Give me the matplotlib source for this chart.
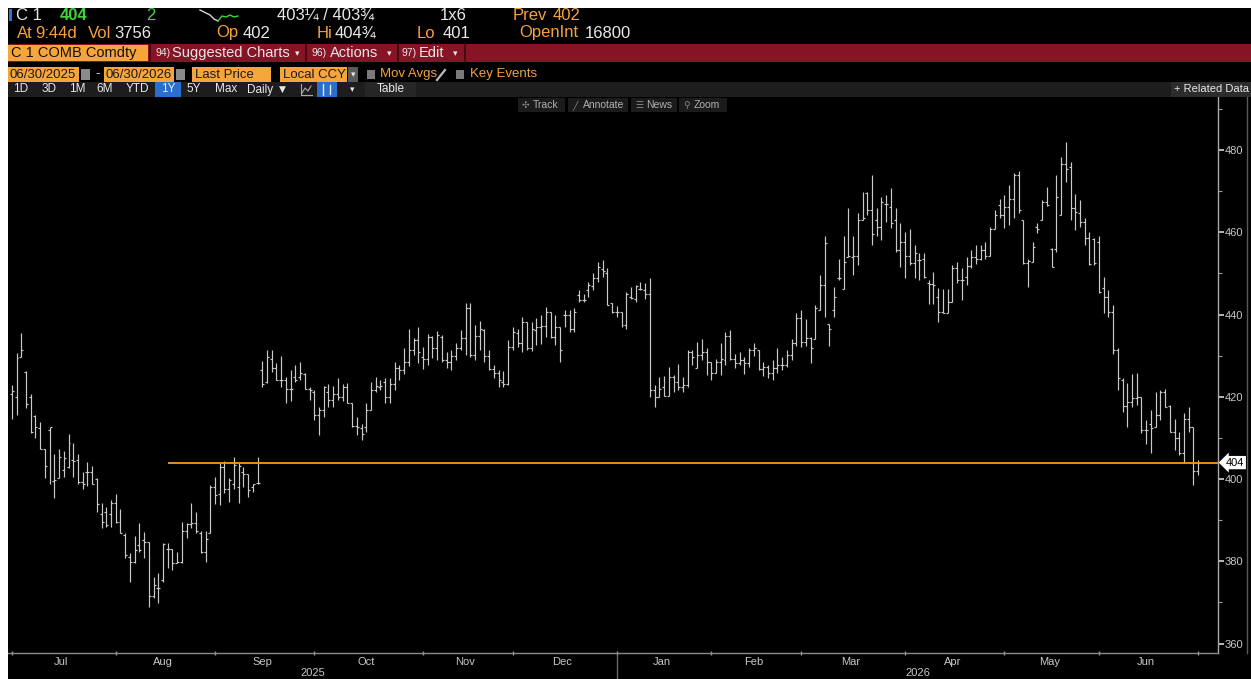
import matplotlib
matplotlib.use('Agg')
import matplotlib.pyplot as plt
from matplotlib.patches import Rectangle
from matplotlib.lines import Line2D
from matplotlib import font_manager
from matplotlib.transforms import blended_transform_factory
import numpy as np
import pandas as pd

W, H, DPI = 1251, 679, 100

# ---------------- data ----------------
opens = [
    420.7, 419.9, 429.6, 426.1, 420.0, 415.4, 412.5, 407.2, 411.9, 399.5,
    400.2, 402.2, 403.0, 404.6, 404.6, 399.3, 401.8, 401.8, 400.0, 391.6,
    392.0, 391.6, 394.1, 389.6, 386.4, 381.1, 379.9, 384.0, 385.2, 384.8,
    371.6, 373.4, 375.4, 383.1, 383.1, 379.5, 379.9, 387.4, 389.0, 389.2,
    387.0, 382.3, 387.0, 398.0, 396.4, 403.0, 397.7, 398.8, 398.1, 401.8,
    401.2, 398.1, 399.0,
    426.5, 423.5, 429.3, 426.9, 424.1, 424.2, 422.0, 424.9, 424.9, 425.5,
    422.0, 421.2, 415.6, 416.8, 421.2, 419.2, 420.7, 419.9, 422.5, 418.4,
    412.9, 412.3, 412.7, 416.8, 421.6, 422.4, 423.7, 419.9, 423.1, 427.1,
    426.5, 428.5, 431.4, 433.9, 429.7, 429.3, 434.6, 431.8, 434.6, 428.9,
    428.5, 429.9, 431.8, 434.4, 441.5, 430.1, 434.8, 436.2, 429.9, 426.7,
    425.7, 423.7, 423.1, 432.2, 435.4, 433.0, 438.3, 431.8, 436.2, 437.0,
    437.2, 440.7, 434.6, 437.0, 439.9, 439.9, 436.6, 444.7, 443.5, 445.9,
    447.0, 449.0,
    451.0, 450.2, 442.9, 440.7, 440.7, 437.4, 444.3, 443.9, 446.1, 446.0, 445.1,
    421.6, 420.0, 422.4, 420.2, 424.9, 423.6, 422.4, 422.8, 430.9, 426.9,
    430.2, 431.0, 428.5, 425.7, 428.5, 428.9, 434.8, 429.3, 428.1, 428.9,
    428.1, 431.4, 431.3, 426.7, 427.3, 425.7, 427.1, 427.7, 427.7, 430.1,
    433.0, 439.1, 433.4, 434.2, 434.0, 441.1, 447.2, 437.7, 441.0, 448.8,
    446.1, 454.1, 454.1, 454.2, 463.1, 469.5, 465.4, 463.0, 461.3, 466.9,
    466.2, 463.0,
    455.7, 457.7, 454.2, 452.6, 453.2, 453.6, 447.6, 447.4, 444.3, 440.7,
    440.4, 443.1, 451.2, 448.5, 449.2, 451.8, 454.1, 453.6, 455.7, 454.2,
    460.9, 466.6, 464.2, 466.2, 468.2, 473.9, 463.1, 452.6, 452.8, 461.2,
    463.0, 467.4, 456.0, 456.0, 464.2, 476.7, 475.9, 466.0, 464.6, 462.6,
    458.5, 458.3, 457.7, 446.4, 444.3, 440.7, 431.3, 424.2, 417.7, 418.8,
    419.6, 420.0, 411.9, 413.5, 412.7, 415.6, 421.2, 417.7, 411.5, 409.9,
    406.4, 414.7, 412.7, 402.0,
]
highs = [
    422.9, 430.6, 435.4, 426.3, 420.7, 415.6, 413.9, 407.2, 412.7, 406.2,
    407.2, 406.9, 410.9, 408.8, 406.1, 401.8, 404.2, 403.2, 400.2, 394.2,
    393.3, 394.9, 396.4, 392.6, 386.8, 381.9, 386.1, 389.2, 387.2, 384.8,
    376.3, 377.1, 384.4, 384.5, 383.1, 382.3, 389.6, 389.2, 394.2, 392.0,
    387.4, 387.4, 398.5, 400.5, 403.8, 404.5, 400.2, 405.4, 403.8, 403.0,
    401.2, 398.9, 405.3,
    428.7, 431.4, 431.5, 428.1, 429.9, 424.9, 426.5, 427.7, 428.5, 425.7,
    422.4, 421.6, 417.6, 422.6, 423.1, 422.6, 424.5, 423.1, 423.3, 418.6,
    415.2, 413.5, 418.4, 423.7, 424.9, 424.1, 424.5, 424.5, 428.5, 427.7,
    431.8, 436.4, 434.2, 437.0, 432.2, 435.2, 434.8, 436.1, 435.0, 431.0,
    431.4, 433.1, 436.2, 442.9, 442.9, 437.4, 438.5, 436.4, 431.4, 427.7,
    426.5, 426.3, 433.8, 437.0, 436.6, 439.3, 438.3, 438.3, 439.1, 439.9,
    441.9, 440.7, 439.9, 437.0, 441.2, 441.1, 441.5, 446.0, 445.1, 448.0,
    450.0, 452.8,
    453.2, 451.2, 442.9, 442.1, 440.7, 445.5, 446.8, 447.3, 448.0, 447.6, 448.8,
    422.8, 424.9, 425.0, 427.3, 425.3, 427.9, 424.9, 431.5, 431.3, 433.4,
    434.0, 431.8, 428.5, 429.1, 433.0, 435.8, 436.2, 430.4, 431.0, 429.7,
    431.8, 433.0, 431.3, 428.5, 427.7, 428.9, 431.8, 429.7, 431.3, 434.0,
    440.3, 441.1, 438.8, 434.6, 442.3, 449.6, 459.1, 437.7, 446.8, 453.6,
    459.1, 466.0, 459.1, 464.6, 469.9, 469.9, 473.9, 465.8, 468.6, 469.1,
    470.7, 465.8,
    462.2, 460.1, 460.7, 457.0, 455.0, 455.0, 448.4, 450.4, 446.4, 446.1,
    446.1, 452.0, 452.8, 451.2, 454.0, 455.7, 456.9, 456.9, 457.7, 461.3,
    465.4, 468.2, 469.0, 471.5, 474.3, 475.0, 463.1, 453.4, 457.7, 462.2,
    467.8, 470.9, 456.3, 473.9, 478.2, 481.9, 477.2, 469.3, 467.8, 463.4,
    460.1, 458.5, 459.1, 449.2, 446.0, 442.3, 431.8, 424.5, 423.3, 425.5,
    425.7, 420.0, 414.3, 416.8, 421.2, 421.6, 422.0, 418.0, 414.5, 411.5,
    416.0, 417.6, 412.7, 404.75,
]
lows = [
    414.5, 415.6, 429.6, 417.2, 411.1, 410.1, 407.2, 400.2, 398.9, 395.3,
    400.2, 400.6, 402.6, 400.6, 398.9, 397.7, 398.3, 398.9, 392.1, 388.0,
    388.4, 388.4, 389.2, 386.8, 380.7, 375.0, 379.7, 382.3, 380.7, 369.0,
    371.0, 369.8, 375.0, 378.3, 378.0, 379.5, 379.5, 385.6, 388.2, 387.0,
    381.9, 379.9, 387.0, 394.0, 393.7, 396.7, 394.5, 397.7, 394.2, 398.1,
    395.7, 396.9, 398.9,
    422.3, 423.3, 426.1, 424.1, 422.4, 418.4, 419.0, 423.7, 424.1, 422.0,
    419.2, 414.3, 410.7, 415.0, 417.6, 417.6, 419.2, 419.0, 418.4, 412.7,
    410.7, 409.5, 411.5, 416.8, 421.2, 421.6, 418.6, 418.6, 421.6, 424.1,
    425.5, 427.5, 430.1, 428.1, 426.7, 427.7, 429.4, 428.9, 428.5, 427.1,
    426.5, 428.9, 431.4, 430.1, 429.6, 428.9, 431.4, 428.5, 426.5, 424.5,
    422.4, 422.4, 422.8, 431.4, 432.0, 431.0, 431.4, 431.2, 432.6, 432.8,
    434.6, 434.2, 432.6, 428.5, 437.0, 435.8, 435.8, 443.1, 443.1, 444.3,
    446.0, 448.0,
    449.2, 442.3, 440.3, 439.5, 437.0, 436.4, 443.9, 443.1, 446.0, 443.9, 420.0,
    417.6, 420.0, 420.2, 420.2, 421.2, 421.6, 421.2, 422.4, 427.7, 426.9,
    428.9, 425.3, 424.2, 425.7, 425.3, 427.7, 428.9, 426.9, 427.7, 425.5,
    427.3, 429.9, 426.5, 425.0, 424.5, 424.2, 425.7, 426.5, 427.3, 428.9,
    432.3, 432.2, 432.3, 428.3, 434.0, 441.1, 439.5, 432.3, 439.5, 448.4,
    446.1, 454.0, 449.6, 452.0, 463.1, 464.2, 456.9, 459.1, 458.1, 462.6,
    461.0, 455.3,
    451.6, 448.8, 452.0, 449.0, 448.4, 448.8, 442.5, 442.5, 438.2, 440.3,
    440.4, 443.1, 447.6, 443.5, 447.2, 451.2, 452.4, 453.2, 453.6, 454.2,
    460.9, 463.4, 461.0, 461.8, 463.4, 464.6, 452.4, 446.8, 452.8, 459.9,
    463.0, 466.4, 451.6, 455.3, 464.2, 472.3, 463.1, 460.5, 461.3, 456.9,
    452.0, 452.0, 445.3, 440.3, 439.5, 430.5, 421.6, 416.4, 412.7, 417.6,
    418.0, 411.1, 408.6, 406.4, 412.7, 414.3, 417.6, 411.5, 407.0, 405.8,
    404.0, 411.5, 398.5, 401.0,
]
closes = [
    421.4, 429.5, 431.5, 418.2, 411.5, 412.6, 407.2, 403.2, 412.7, 399.8,
    405.3, 405.0, 408.7, 404.4, 399.3, 398.9, 401.8, 398.9, 393.9, 389.6,
    388.8, 394.1, 389.6, 386.8, 381.5, 379.9, 382.7, 382.7, 384.8, 371.6,
    374.2, 373.4, 384.2, 383.1, 379.5, 379.9, 387.4, 389.0, 389.2, 387.4,
    382.3, 385.3, 398.1, 396.0, 403.0, 397.7, 399.7, 403.4, 403.2, 401.2,
    397.3, 398.9, 399.0,
    423.1, 429.6, 426.9, 424.1, 424.2, 422.0, 422.0, 424.2, 425.7, 422.0,
    421.6, 415.6, 416.8, 422.3, 419.2, 420.7, 420.0, 422.5, 418.4, 412.9,
    412.7, 410.9, 416.8, 421.6, 422.6, 422.6, 419.9, 423.1, 427.1, 426.5,
    428.5, 431.4, 433.9, 431.0, 429.3, 434.6, 431.8, 435.0, 428.9, 428.5,
    429.9, 431.8, 434.4, 441.5, 430.1, 434.8, 436.6, 429.9, 426.7, 425.7,
    424.1, 423.1, 432.2, 435.8, 433.0, 438.3, 431.8, 436.4, 437.0, 437.2,
    440.7, 434.6, 437.0, 431.5, 439.9, 436.6, 440.7, 443.5, 443.5, 447.2,
    449.0, 451.5,
    450.5, 442.3, 440.7, 440.5, 437.4, 445.0, 444.1, 446.9, 446.1, 445.1, 421.6,
    420.0, 422.0, 420.2, 424.9, 423.6, 422.4, 422.8, 430.9, 429.7, 430.2,
    431.0, 428.5, 425.7, 428.5, 429.3, 434.8, 429.3, 428.1, 428.9, 428.1,
    431.4, 431.8, 426.7, 427.3, 425.7, 427.1, 427.7, 427.7, 430.1, 433.0,
    439.1, 433.4, 434.2, 431.8, 441.5, 447.2, 457.3, 436.4, 444.3, 448.8,
    452.8, 454.2, 454.2, 463.1, 463.4, 465.4, 459.6, 461.3, 467.4, 466.9,
    462.3, 455.7,
    457.7, 454.2, 452.6, 455.0, 453.2, 449.2, 447.4, 447.2, 440.7, 440.4,
    443.1, 451.2, 448.5, 448.4, 451.8, 454.1, 453.6, 455.7, 454.2, 460.9,
    464.2, 464.2, 466.2, 468.2, 473.9, 465.5, 452.6, 453.1, 456.5, 460.7,
    467.4, 466.6, 451.6, 468.6, 476.7, 475.5, 466.0, 465.0, 462.6, 458.5,
    452.4, 452.6, 445.5, 444.3, 440.7, 431.3, 424.5, 417.7, 418.8, 419.6,
    420.0, 411.9, 411.9, 412.3, 415.6, 421.2, 417.6, 411.5, 409.9, 406.4,
    414.7, 412.7, 402.0, 404.0,
]
holidays = ['2025-07-04', '2025-09-01', '2025-11-27', '2025-12-25', '2026-01-01',
            '2026-01-19', '2026-02-16', '2026-04-03', '2026-05-25', '2026-06-19']
dates = pd.bdate_range('2025-06-30', '2026-06-30', freq='C', holidays=holidays)
last_price = 404
level_line_start = '2025-08-15'
y_ticks = [360, 380, 400, 420, 440, 460, 480]

n = min(len(opens), len(highs), len(lows), len(closes), len(dates))
opens, highs, lows, closes = (np.array(a[:n]) for a in (opens, highs, lows, closes))
dates = dates[:n]
idx = np.arange(n)

# ---------------- fonts ----------------
avail = {f.name for f in font_manager.fontManager.ttflist}
FONT = 'Liberation Sans Narrow' if 'Liberation Sans Narrow' in avail else 'Liberation Sans'
plt.rcParams['font.family'] = [FONT, 'DejaVu Sans']
SYM = ['DejaVu Sans']

AMBER = '#f7a13c'
ORANGE = '#f6a53a'
WHITE = '#e8e8e8'
GREEN = '#3fd53a'
RED = '#861424'

fig = plt.figure(figsize=(W / DPI, H / DPI), dpi=DPI, facecolor='black')


def fx(x):
    return x / W


def fy(y):
    return 1 - y / H


def R(x0, y0, x1, y1, color, z=1):
    fig.add_artist(Rectangle((fx(x0), fy(y1)), (x1 - x0) / W, (y1 - y0) / H,
                             transform=fig.transFigure, facecolor=color,
                             edgecolor='none', zorder=z))


def T(x, y, s, color=WHITE, size=11, ha='left', va='center', weight='normal', z=5, fam=None):
    kw = {}
    if fam:
        kw['family'] = fam
    fig.text(fx(x), fy(y), s, color=color, fontsize=size, ha=ha, va=va,
             weight=weight, zorder=z, **kw)


def L(xs, ys, color, lw=1.0, z=4):
    fig.add_artist(Line2D([fx(v) for v in xs], [fy(v) for v in ys],
                          transform=fig.transFigure, color=color, lw=lw, zorder=z))


# white margins
R(0, 0, W, 8, 'white', z=0.5)
R(0, 0, 8, H, 'white', z=0.5)

# ---------------- header row 1 ----------------
HS = 12
R(9, 9, 12, 21, '#2f72d8')
T(16, 15, 'C 1', size=HS)
T(60, 15, '404', color=GREEN, size=HS, weight='bold')
T(146, 15, '2', color=GREEN, size=HS)
L([200, 206, 210, 214, 218], [10, 13, 15, 19, 21], '#d8d8d8', lw=1)
L([218, 222, 226, 230, 234, 238], [21, 16, 17, 15, 17, 16], GREEN, lw=1)
T(277, 15, '403¼ / 403¾', size=HS)
T(440, 15, '1x6', size=HS)
T(513, 15, 'Prev', color=AMBER, size=HS)
T(553, 15, '402', color=AMBER, size=HS)

# ---------------- header row 2 ----------------
T(17, 33, 'At', color=AMBER, size=HS)
T(35, 33, '9:44d', color=AMBER, size=HS)
T(88, 33, 'Vol', color=AMBER, size=HS)
T(114, 33, '3756', size=HS)
T(216, 33, 'Op', color=AMBER, size=HS)
T(243, 33, '402', size=HS)
T(317, 33, 'Hi', color=AMBER, size=HS)
T(335, 33, '404¾', size=HS)
T(417, 33, 'Lo', color=AMBER, size=HS)
T(443, 33, '401', size=HS)
T(519, 33, 'OpenInt', color=AMBER, size=HS)
T(585, 33, '16800', size=HS)

# ---------------- row 3 (red command bar) ----------------
R(8, 44, W, 62, RED)
R(8, 45, 148, 61, ORANGE, z=2)
T(11, 53, 'C 1 COMB Comdty', color='#111111', size=10.5)
for xs in (150, 306, 398, 465):
    L([xs, xs], [44, 62], '#3a0a10', lw=1.2)
T(155, 53, '94)', size=7.5)
T(172, 53, 'Suggested Charts', size=10.5)
T(297, 53.5, '▾', size=6.5, ha='center', fam=SYM)
T(312, 53, '96)', size=7.5)
T(330, 53, 'Actions', size=10.5)
T(389, 53.5, '▾', size=6.5, ha='center', fam=SYM)
T(401, 53, '97)', size=7.5)
T(419, 53, 'Edit', size=10.5)
T(455, 53.5, '▾', size=6.5, ha='center', fam=SYM)

# ---------------- row 4 ----------------
R4 = 9.5
R(8, 67, 79, 82, ORANGE)
T(10, 74.5, '06/30/2025', color='#1a1a1a', size=R4)
R(81, 69, 90, 80, '#8a8a8a')
T(95, 74.5, '-', size=R4)
R(104, 67, 174, 82, ORANGE)
T(106, 74.5, '06/30/2026', color='#1a1a1a', size=R4)
R(176, 69, 185, 80, '#8a8a8a')
R(192, 67, 271, 82, ORANGE)
T(195, 74.5, 'Last Price', color='#1a1a1a', size=R4)
R(280, 67, 347, 82, ORANGE)
T(283, 74.5, 'Local CCY', color='#1a1a1a', size=R4)
R(348, 67, 358, 82, '#5a5a5a')
T(353, 75, '▾', size=6.5, ha='center', fam=SYM)
R(367, 70, 375, 79, '#7a7a7a')
T(380, 74.5, 'Mov Avgs', color=AMBER, size=R4)
L([437, 445], [80, 70], '#bbbbbb', lw=1.6)
R(456, 70, 464, 79, '#7a7a7a')
T(470, 74.5, 'Key Events', color=AMBER, size=R4)

# ---------------- row 5 (period toolbar) ----------------
R(8, 82, W, 97, '#1d1d1d')
for lab, xc in [('1D', 21), ('3D', 49), ('1M', 77), ('6M', 105), ('YTD', 137),
                ('5Y', 194), ('Max', 226)]:
    T(xc, 89.5, lab, size=8.5, ha='center')
R(155, 82, 181, 97, '#2a6fd0')
T(168, 89.5, '1Y', size=8.5, ha='center')
T(247, 89.5, 'Daily', size=8.5)
T(279, 89.5, '▼', size=6.5, fam=SYM)
L([301, 301, 312], [84, 95, 95], '#aaaaaa', lw=0.8)
L([302, 305, 308, 311], [93, 88, 91, 86], '#aaaaaa', lw=0.8)
R(317, 82, 337, 97, '#2a6fd0')
L([323, 323], [84, 95], WHITE, lw=1)
L([330, 330], [85, 94], WHITE, lw=1)
T(352, 89.5, '▾', size=6.5, ha='center', fam=SYM)
R(365, 82, 416, 97, '#262626')
T(391, 89.5, 'Table', size=8.5, ha='center')
R(1171, 82, W, 97, '#2c2c2c')
T(1174, 89.5, '+ Related Data', size=8)

# ---------------- chart axes ----------------
ax = fig.add_axes([fx(8), fy(653), (1218 - 8) / W, (653 - 97) / H])
ax.set_facecolor('black')
ax.vlines(idx, lows, highs, color='#c9c9c9', lw=0.85)
ax.hlines(opens, idx - 0.42, idx, color='#c9c9c9', lw=0.85)
ax.hlines(closes, idx, idx + 0.42, color='#c9c9c9', lw=0.85)

x_lo, x_hi = -0.8, n + 3.2
line_i = int(np.searchsorted(dates, pd.Timestamp(level_line_start)))
ax.hlines(last_price, line_i, x_hi, color='#f39a1e', lw=1.3, zorder=5)
ax.set_xlim(x_lo, x_hi)
ax.set_ylim(357.7, 492.9)

for s in ('left', 'top'):
    ax.spines[s].set_visible(False)
ax.spines['right'].set_color('#a8a8a8')
ax.spines['bottom'].set_color('#8a8a8a')
ax.spines['right'].set_linewidth(1)
ax.spines['bottom'].set_linewidth(1)

ax.yaxis.tick_right()
ax.set_yticks(y_ticks)
ax.set_yticklabels([str(v) for v in y_ticks])
ax.set_yticks([v + 10 for v in y_ticks], minor=True)
ax.tick_params(axis='y', which='major', colors='#b8b8b8', labelcolor='#c8c8c8',
               labelsize=8, length=4, width=1.4, direction='out', pad=1)
ax.tick_params(axis='y', which='minor', colors='#9a9a9a', length=3, width=0.8,
               direction='out')

# month boundaries & labels from trading dates
months = pd.Series(idx, index=dates)
first_idx = months.groupby([dates.year, dates.month]).min()
last_idx = months.groupby([dates.year, dates.month]).max()
bounds = [i - 1 for i in first_idx.values[1:]] + [n - 1]
centers = []
names = []
for (yy, mm), fi in first_idx.items():
    li = last_idx[(yy, mm)]
    if li - fi < 5:
        continue  # partial month at the edge gets no label
    centers.append((fi - 1 + li) / 2 - 0.5)
    names.append(pd.Timestamp(year=yy, month=mm, day=1).strftime('%b'))
ax.set_xticks(bounds)
ax.set_xticklabels([''] * len(bounds))
ax.set_xticks(centers, minor=True)
ax.set_xticklabels(names, minor=True)
ax.tick_params(axis='x', which='major', colors='#9a9a9a', length=3, width=1,
               direction='inout')
ax.tick_params(axis='x', which='minor', length=0, labelcolor='#c8c8c8',
               labelsize=8, pad=3)

# year labels + separator
jan_i = int(first_idx[(2026, 1)]) - 1
tr = blended_transform_factory(ax.transData, fig.transFigure)
ax.plot([jan_i, jan_i], [fy(655), fy(679)], transform=tr, color='#6a6a6a',
        lw=1, clip_on=False)
ax.text((x_lo + jan_i) / 2, fy(673), '2025', transform=tr, color='#c8c8c8',
        fontsize=8, ha='center', va='center')
ax.text((jan_i + x_hi) / 2, fy(673), '2026', transform=tr, color='#c8c8c8',
        fontsize=8, ha='center', va='center')

# last price label on the axis
bt = blended_transform_factory(ax.transAxes, ax.transData)
ax.text(1.0065, last_price, str(last_price), transform=bt, color='black',
        fontsize=8, ha='left', va='center', clip_on=False, zorder=6,
        bbox=dict(boxstyle='larrow,pad=0.15', fc='white', ec='none'))

# right border line
L([1247, 1247], [97, 653], '#5a5a5a', lw=1)

# chart overlay buttons
for x0, x1, icon, lab in [(518, 565, '✣', 'Track'), (568, 628, '╱', 'Annotate'),
                          (631, 677, '☰', 'News'), (679, 727, '⚲', 'Zoom')]:
    R(x0, 98, x1, 112, '#1b1b1b', z=3)
    T(x0 + 4, 105.5, icon, color='#8a8a8a', size=6.5, z=6, fam=SYM)
    T(x0 + 15, 105.5, lab, color='#b0b0b0', size=7.5, z=6)

fig.savefig('out.png', dpi=DPI, facecolor='black')
